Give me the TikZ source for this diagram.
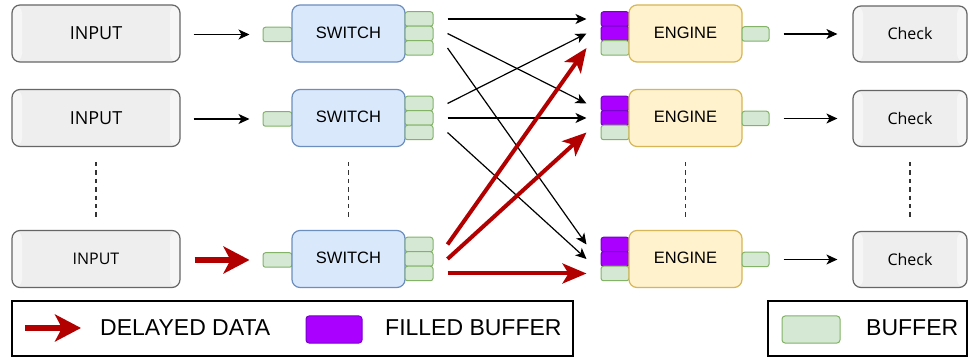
\documentclass[tikz,border=0pt]{standalone}
\usepackage{fontspec}
\setmainfont{Liberation Sans}
\newfontfamily\opensans{Open Sans}
\usetikzlibrary{arrows.meta,calc}

\definecolor{boxfill}{HTML}{EEEEEE}
\definecolor{boxline}{HTML}{666666}
\definecolor{stripfill}{HTML}{F6F6F6}
\definecolor{swfill}{HTML}{DAE8FC}
\definecolor{swline}{HTML}{6C8EBF}
\definecolor{engfill}{HTML}{FFF2CC}
\definecolor{engline}{HTML}{D6B656}
\definecolor{buffill}{HTML}{D5E8D4}
\definecolor{bufline}{HTML}{82B366}
\definecolor{fullfill}{HTML}{AA00FF}
\definecolor{fullline}{HTML}{7700CC}
\definecolor{delayred}{HTML}{B20000}
\definecolor{dotgrey}{HTML}{333333}

\tikzset{
  procbox/.style={draw=boxline, fill=boxfill, line width=1.2pt,
    rounded corners=8pt, minimum height=57pt, inner sep=0pt,
    path picture={
      \fill[stripfill] (path picture bounding box.north west) rectangle
        ([xshift=10pt]path picture bounding box.south west);
      \fill[stripfill] ([xshift=-10pt]path picture bounding box.north east) rectangle
        (path picture bounding box.south east);
    }},
  switchbox/.style={draw=swline, fill=swfill, line width=1.2pt,
    rounded corners=8pt, minimum width=113pt, minimum height=57pt,
    inner sep=0pt, font=\fontsize{16.5}{18}\selectfont},
  enginebox/.style={draw=engline, fill=engfill, line width=1.2pt,
    rounded corners=8pt, minimum width=113pt, minimum height=57pt,
    inner sep=0pt, font=\fontsize{16.5}{18}\selectfont},
  bufbox/.style={draw=bufline, fill=buffill, line width=1pt,
    rounded corners=2.5pt, minimum width=28pt, minimum height=14.5pt,
    inner sep=0pt},
  fullbox/.style={draw=fullline, fill=fullfill, line width=1pt,
    rounded corners=2.5pt, minimum width=28pt, minimum height=14.5pt,
    inner sep=0pt},
  legendbox/.style={draw=black, line width=1.3pt, inner sep=0pt,
    minimum height=55pt},
  legtext/.style={inner sep=0pt, anchor=west,
    font=\fontsize{23}{26}\selectfont},
  flow/.style={line width=1.2pt, -{Stealth[length=11pt,width=10pt,inset=3pt]}},
  delayflow/.style={draw=delayred, line width=4pt,
    -{Stealth[length=24pt,width=20pt,inset=6pt]}},
  delaybig/.style={draw=delayred, line width=6pt,
    -{Stealth[length=26pt,width=27pt,inset=7pt]}},
  dotline/.style={draw=dotgrey, line width=1.3pt,
    dash pattern=on 4.3pt off 4.1pt},
}

\begin{document}
\begin{tikzpicture}[x=1pt,y=-1pt]
\useasboundingbox (0,0) rectangle (970,358);
\fill[white] (0,0) rectangle (970,358);

% three pipeline rows: input, switch, engine, check
\foreach \r/\y/\fs in {1/33.5/18, 2/118/18, 3/259/16} {
  \node[procbox, minimum width=168pt,
        font=\opensans\fontsize{\fs}{\fs}\selectfont] (in\r) at (96,\y) {\raisebox{-2pt}{INPUT}};
  \node[bufbox, minimum width=29pt] (sp\r) at (277.5,\y+1) {};
  \node[switchbox] (sw\r) at (348.5,\y) {\raisebox{2pt}{SWITCH}};
  \foreach \j/\d in {a/-14.5, b/0, c/14.5}
    \node[bufbox] (s\r\j) at (419,\y+\d) {};
  \node[fullbox] (e\r a) at (615,\y-14.5) {};
  \node[fullbox] (e\r b) at (615,\y) {};
  \node[bufbox]  (e\r c) at (615,\y+14.5) {};
  \node[enginebox] (en\r) at (685.5,\y) {\raisebox{2pt}{ENGINE}};
  \node[bufbox, minimum width=27pt] (ep\r) at (755.5,\y+0.5) {};
  \node[procbox, minimum width=114pt, minimum height=56pt,
        font=\opensans\fontsize{16}{18}\selectfont] (ck\r) at (910,\y+0.5) {\raisebox{-1.5pt}{Check}};
  \draw[flow, shorten >=15pt, shorten <=14pt] (ep\r.east) -- (ck\r.west |- ep\r.east);
}

% inputs into the switches
\draw[flow, shorten >=13pt, shorten <=13pt] (in1.east |- sp1.west) -- (sp1.west);
\draw[flow, shorten >=13pt, shorten <=13pt] (in2.east |- sp2.west) -- (sp2.west);
\draw[delaybig, shorten >=13pt, shorten <=14pt] (in3.east |- sp3.west) -- (sp3.west);

% switch outputs to engine inputs
\draw[flow] ($(s1a.east)+(14,0)$) -- ($(e1a.west)+(-14,0)$);
\draw[flow] ($(s1b.east)+(14,0)$) -- ($(e2a.west)+(-14,0)$);
\draw[flow] ($(s1c.east)+(14,0)$) -- ($(e3a.west)+(-14,0)$);
\draw[flow] ($(s2a.east)+(14,0)$) -- ($(e1b.west)+(-14,0)$);
\draw[flow] ($(s2b.east)+(14,0)$) -- ($(e2b.west)+(-14,0)$);
\draw[flow] ($(s2c.east)+(14,0)$) -- ($(e3b.west)+(-14,0)$);
\draw[delayflow] ($(s3a.east)+(14,0)$) -- ($(e1c.west)+(-14,0)$);
\draw[delayflow] ($(s3b.east)+(14,0)$) -- ($(e2c.west)+(-14,0)$);
\draw[delayflow] ($(s3c.east)+(14,0)$) -- ($(e3c.west)+(-14,0)$);

% elided rows
\draw[dotline] ($(in2.south)+(0,15)$) -- ($(in3.north)+(0,-13)$);
\draw[dotline] ($(sw2.south)+(0,15)$) -- ($(sw3.north)+(0,-13)$);
\draw[dotline] ($(en2.south)+(0,15)$) -- ($(en3.north)+(0,-13)$);
\draw[dotline] ($(ck2.south)+(0,15)$) -- ($(ck3.north)+(0,-13)$);

% legend
\node[legendbox, minimum width=561pt] (lgl) at (292.5,328.5) {};
\node[legendbox, minimum width=199pt] (lgr) at (867.5,328.5) {};
\coordinate (dA) at (25,328);
\coordinate (dB) at (81,328);
\draw[delaybig] (dA) -- (dB);
\node[legtext] (tdel) at (100,328) {DELAYED DATA};
\node[fullbox, minimum width=56pt, minimum height=27pt, rounded corners=3pt] (kfull) at (334,329.5) {};
\node[legtext] (tfull) at (385,328) {FILLED BUFFER};
\node[bufbox, minimum width=58pt, minimum height=27pt, rounded corners=3pt] (kbuf) at (811,329.5) {};
\node[legtext] (tbuf) at (866,328) {BUFFER};
\end{tikzpicture}
\end{document}
